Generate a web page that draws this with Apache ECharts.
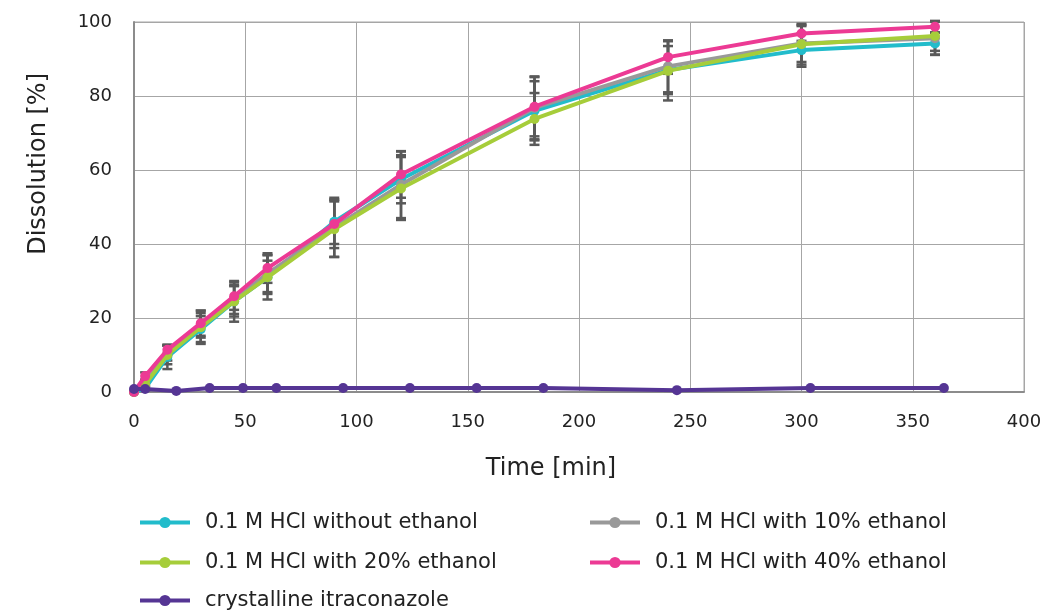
<!DOCTYPE html>
<html><head><meta charset="utf-8">
<script src="https://cdn.jsdelivr.net/npm/echarts@6/dist/echarts.min.js"></script>
<style>html,body{margin:0;padding:0;background:#fff}#c{width:1052px;height:611px}</style>
</head><body><div id="c"></div>
<script>
// Time points (min)
var times = [0, 5, 15, 30, 45, 60, 90, 120, 180, 240, 300, 360];
var timesCryst = [0, 5, 19, 34, 49, 64, 94, 124, 154, 184, 244, 304, 364];
// Dissolution (%)
var noEthanol   = [0, 1.0, 9.5, 17.0, 24.5, 31.0, 46.0, 57.5, 76.0, 87.0, 92.4, 94.2];
var ethanol10   = [0, 2.5, 10.5, 18.0, 25.0, 32.0, 44.5, 56.0, 76.8, 88.0, 94.2, 95.6];
var ethanol20   = [0, 2.0, 10.0, 17.5, 24.5, 31.0, 44.0, 55.0, 73.8, 86.8, 94.0, 96.2];
var ethanol40   = [0, 4.3, 11.4, 18.6, 25.9, 33.5, 45.4, 58.8, 77.1, 90.5, 96.9, 98.7];
var crystalline = [0.8, 0.8, 0.3, 1.1, 1.1, 1.1, 1.1, 1.1, 1.1, 1.1, 0.5, 1.1, 1.1];
// Standard deviations (%)
var sdNoEthanol = [0, 0.5, 3.3, 3.5, 4.1, 4.5, 6.0, 6.5, 8.0, 6.5, 4.5, 3.0];
var sdEthanol10 = [0, 0.8, 2.0, 3.3, 3.9, 5.0, 8.0, 9.0, 8.5, 7.0, 5.0, 4.5];
var sdEthanol20 = [0, 0.8, 2.5, 4.5, 5.5, 6.0, 7.5, 8.5, 7.0, 8.0, 5.5, 4.0];
var sdEthanol40 = [0, 1.0, 1.3, 3.4, 3.7, 4.0, 6.5, 6.3, 8.0, 4.5, 2.0, 1.6];

var names = ['0.1 M HCl without ethanol','0.1 M HCl with 10% ethanol','0.1 M HCl with 20% ethanol','0.1 M HCl with 40% ethanol','crystalline itraconazole'];
var colors = ['#22bccb','#999999','#a6cd3a','#ec3a94','#553594'];

function pairs(xs, ys){ return xs.map(function(x,i){return [x, ys[i]];}); }
function errs(xs, ys, sd){ return xs.map(function(x,i){return [x, ys[i]-sd[i], ys[i]+sd[i]];}); }

var errData = [].concat(
  errs(times, noEthanol, sdNoEthanol),
  errs(times, ethanol10, sdEthanol10),
  errs(times, ethanol20, sdEthanol20),
  errs(times, ethanol40, sdEthanol40)
).filter(function(d){return d[2]-d[1] > 0.01;});

function lineSeries(i, xs, ys){
  return {
    name: names[i], type: 'line', data: pairs(xs, ys),
    symbol: 'circle', symbolSize: 10, z: 3 + i,
    lineStyle: {width: 4, color: colors[i]},
    itemStyle: {color: colors[i]},
    emphasis: {disabled: true}
  };
}

// legend positions: [name index, left, top]
var legendPos = [[0, 138, 512], [1, 588, 512], [2, 138, 552], [3, 588, 552], [4, 138, 590]];
var legends = legendPos.map(function(p){
  return {data: [names[p[0]]], left: p[1], top: p[2], padding: 0,
    itemWidth: 50, itemHeight: 14, itemGap: 10,
    lineStyle: {width: 4},
    textStyle: {fontFamily: 'DejaVu Sans', fontSize: 21, color: '#222', padding: [0, 0, 0, 10]}};
});

var chart = echarts.init(document.getElementById('c'));
chart.setOption({
  animation: false,
  grid: {left: 134, right: 28, top: 22, bottom: 219, show: true, borderColor: '#a6a6a6', borderWidth: 1},
  xAxis: {
    type: 'value', min: 0, max: 400, interval: 50,
    axisLine: {show: true, onZero: false, lineStyle: {color: '#8c8c8c', width: 2}},
    axisTick: {show: false},
    splitLine: {show: true, lineStyle: {color: '#a6a6a6', width: 1}},
    axisLabel: {color: '#222', fontFamily: 'DejaVu Sans', fontSize: 18, margin: 21}
  },
  yAxis: {
    type: 'value', min: 0, max: 100, interval: 20,
    axisLine: {show: true, lineStyle: {color: '#8c8c8c', width: 2}},
    axisTick: {show: false},
    splitLine: {show: true, lineStyle: {color: '#a6a6a6', width: 1}},
    axisLabel: {color: '#222', fontFamily: 'DejaVu Sans', fontSize: 18, margin: 22}
  },
  graphic: [
    {type: 'text', left: 27, top: 73, rotation: Math.PI/2,
     style: {text: 'Dissolution [%]', font: '24px "DejaVu Sans"', fill: '#222'}},
    {type: 'text', x: 551, y: 469, style: {text: 'Time [min]', font: '24px "DejaVu Sans"', fill: '#222', align: 'center', verticalAlign: 'middle'}}
  ],
  legend: legends,
  series: [
    {
      type: 'custom', name: 'errors', data: errData, z: 2, clip: false, silent: true,
      renderItem: function(params, api){
        var x = api.value(0);
        var lo = api.coord([x, api.value(1)]);
        var hi = api.coord([x, api.value(2)]);
        var w = 5;
        var st = {stroke: '#595959', lineWidth: 2.5};
        return {type: 'group', children: [
          {type: 'line', shape: {x1: lo[0], y1: lo[1], x2: hi[0], y2: hi[1]}, style: st},
          {type: 'line', shape: {x1: lo[0]-w, y1: lo[1], x2: lo[0]+w, y2: lo[1]}, style: st},
          {type: 'line', shape: {x1: hi[0]-w, y1: hi[1], x2: hi[0]+w, y2: hi[1]}, style: st}
        ]};
      }
    },
    lineSeries(0, times, noEthanol),
    lineSeries(1, times, ethanol10),
    lineSeries(2, times, ethanol20),
    lineSeries(3, times, ethanol40),
    lineSeries(4, timesCryst, crystalline)
  ]
});
</script></body></html>
